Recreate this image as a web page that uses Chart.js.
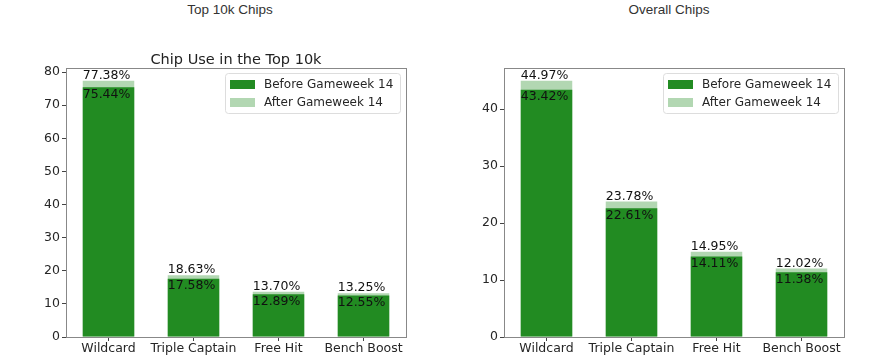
<!DOCTYPE html>
<html>
<head>
<meta charset="utf-8">
<script src="https://cdn.jsdelivr.net/npm/chart.js@4.4.1/dist/chart.umd.min.js"></script>
<style>
  body { margin: 0; background: #fff; }
  #wrap { position: relative; width: 889px; height: 364px; overflow: hidden; }
  .head { position: absolute; top: 2px; font: 13.5px "Liberation Sans", Arial, sans-serif; color: #333; transform: translateX(-50%); white-space: nowrap; }
  canvas { position: absolute; top: 0; }
</style>
</head>
<body>
<div id="wrap">
  <div class="head" style="left:230px">Top 10k Chips</div>
  <div class="head" style="left:669px">Overall Chips</div>
  <canvas id="left" width="445" height="364" style="left:0"></canvas>
  <canvas id="right" width="445" height="364" style="left:444px"></canvas>
</div>
<script>
// chip usage, percentage of managers
const chips = ["Wildcard", "Triple Captain", "Free Hit", "Bench Boost"];
const top10kBefore = [75.44, 17.58, 12.89, 12.55];
const top10kTotal = [77.38, 18.63, 13.70, 13.25];
const overallBefore = [43.42, 22.61, 14.11, 11.38];
const overallTotal = [44.97, 23.78, 14.95, 12.02];
const top10kTicks = [0, 10, 20, 30, 40, 50, 60, 70, 80];
const overallTicks = [0, 10, 20, 30, 40];

const DARK = "#228b22";
const LIGHT = "rgba(34,139,34,0.35)";
const FONT = "DejaVu Sans";

// spines, value labels, legend and subplot title
const decorate = {
    id: "decorate",
    afterDatasetsDraw(chart, args, opts) {
        const ctx = chart.ctx;
        const a = chart.chartArea;
        ctx.save();
        ctx.strokeStyle = "#888";
        ctx.lineWidth = 1;
        ctx.strokeRect(Math.round(a.left) + 0.5, Math.round(a.top) + 0.5,
            Math.round(a.right - a.left), Math.round(a.bottom - a.top));

        ctx.font = "12.5px '" + FONT + "'";
        ctx.fillStyle = "#111";
        ctx.textAlign = "left";
        const before = chart.getDatasetMeta(0).data;
        const total = chart.getDatasetMeta(1).data;
        before.forEach((el, i) => {
            ctx.textBaseline = "top";
            ctx.fillText(chart.data.datasets[0].data[i].toFixed(2) + "%", el.x - el.width / 2, el.y + 1);
        });
        total.forEach((el, i) => {
            ctx.textBaseline = "bottom";
            ctx.fillText(chart.data.datasets[1].data[i].toFixed(2) + "%", el.x - el.width / 2, el.y + 1);
        });

        // legend
        const bx = a.right - 181, by = a.top + 5;
        ctx.fillStyle = "rgba(255,255,255,0.8)";
        ctx.strokeStyle = "#ddd";
        ctx.beginPath();
        ctx.roundRect(bx + 0.5, by + 0.5, 175, 40, 3);
        ctx.fill();
        ctx.stroke();
        ctx.font = "12px '" + FONT + "'";
        const rows = [["Before Gameweek 14", DARK], ["After Gameweek 14", LIGHT]];
        rows.forEach((r, k) => {
            const cy = by + 11 + k * 18;
            ctx.fillStyle = r[1];
            ctx.fillRect(bx + 5, cy - 4, 25, 9);
            ctx.fillStyle = "#262626";
            ctx.textBaseline = "middle";
            ctx.fillText(r[0], bx + 39, cy + 1);
        });

        if (opts.title) {
            ctx.font = "14.5px '" + FONT + "'";
            ctx.fillStyle = "#222";
            ctx.textAlign = "center";
            ctx.textBaseline = "alphabetic";
            ctx.fillText(opts.title, (a.left + a.right) / 2, a.top - 4);
        }
        ctx.restore();
    }
};

function makeChart(id, before, total, ticks, yWidth, title) {
    const ymax = Math.max(...total) * 1.05;
    return new Chart(document.getElementById(id), {
        type: "bar",
        data: {
            labels: chips,
            datasets: [
                { label: "Before Gameweek 14", data: before, backgroundColor: DARK },
                { label: "After Gameweek 14", data: total, backgroundColor: LIGHT }
            ]
        },
        options: {
            responsive: false,
            animation: false,
            layout: { padding: { left: 0, right: 445 - 340 - yWidth, top: 68, bottom: 0 } },
            datasets: { bar: { categoryPercentage: 1, barPercentage: 0.606 } },
            plugins: {
                legend: { display: false },
                tooltip: { enabled: false },
                decorate: { title: title }
            },
            scales: {
                x: {
                    stacked: true,
                    grid: { drawOnChartArea: false, offset: false, tickLength: 4, color: "#444" },
                    border: { color: "#888" },
                    ticks: { color: "#262626", font: { family: FONT, size: 12.5 }, padding: 0, maxRotation: 0, autoSkip: false },
                    afterFit(scale) { scale.height = 27; }
                },
                y: {
                    stacked: false,
                    min: 0,
                    max: ymax,
                    grid: { drawOnChartArea: false, tickLength: 4, color: "#444" },
                    border: { color: "#888" },
                    ticks: { color: "#262626", font: { family: FONT, size: 12.5 }, padding: 2 },
                    afterBuildTicks(scale) { scale.ticks = ticks.map(v => ({ value: v })); },
                    afterFit(scale) { scale.width = yWidth; }
                }
            }
        },
        plugins: [decorate]
    });
}

makeChart("left", top10kBefore, top10kTotal, top10kTicks, 66, "Chip Use in the Top 10k");
makeChart("right", overallBefore, overallTotal, overallTicks, 60, "");
</script>
</body>
</html>
